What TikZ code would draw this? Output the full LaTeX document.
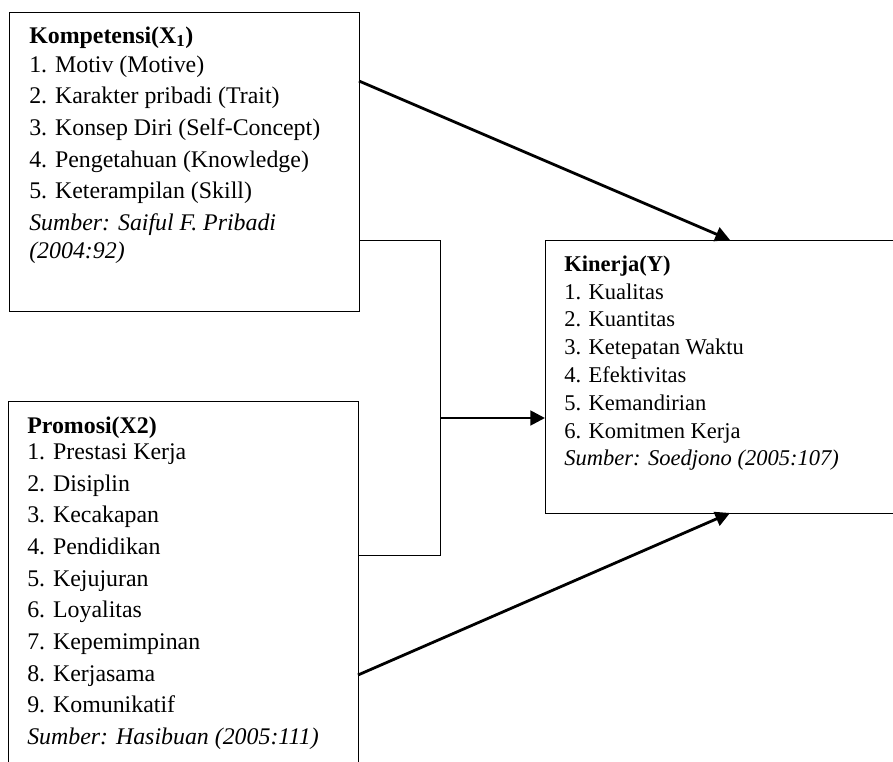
\documentclass[tikz,border=0pt]{standalone}
\usepackage{fontspec}
\setmainfont{Liberation Serif}
\usetikzlibrary{arrows.meta, positioning}

\begin{document}
\begin{tikzpicture}[x=0.75pt, y=-0.75pt, arrow/.style={-{Triangle[length=11pt, width=11pt]}, line width=2.1pt}, link/.style={line width=0.6pt}]
\tikzstyle{box} = [rectangle, draw, line width=0.6pt, anchor=north west, inner sep=0pt, outer sep=0pt]
\tikzstyle{list} = [anchor=north west, align=left, inner sep=0pt, yshift=16pt]
\tikzstyle{big} = [font=\fontsize{17.9}{23.75}\selectfont]
\tikzstyle{small} = [font=\fontsize{16.9}{20.85}\selectfont]
\useasboundingbox (0,0) rectangle (893,761);
\node[box, minimum width=262.5pt, minimum height=224.25pt] (komp) at (9,12) {};
\node[box, minimum width=262.5pt, minimum height=276.75pt] (promosi) at (8,401) {};
\node[box, minimum width=270pt, minimum height=204.75pt] (kinerja) at (545,240) {};
\node[list, big] (komptext) at (29,43) {\rule{0pt}{16pt}\textbf{Kompetensi(X\textsubscript{1})}\\[-2pt]
  1. Motiv (Motive)\\ 2. Karakter pribadi (Trait)\\ 3. Konsep Diri (Self-Concept)\\
  4. Pengetahuan (Knowledge)\\ 5. Keterampilan (Skill)\\
  \textit{Sumber: Saiful F. Pribadi}\\[-2.75pt] \textit{(2004:92)}};
\node[list, big] (promtext) at (27,433) {\rule{0pt}{16pt}\textbf{Promosi(X2)}\\[-4pt]
  1. Prestasi Kerja\\ 2. Disiplin\\ 3. Kecakapan\\ 4. Pendidikan\\ 5. Kejujuran\\
  6. Loyalitas\\ 7. Kepemimpinan\\ 8. Kerjasama\\ 9. Komunikatif\\
  \textit{Sumber: Hasibuan (2005:111)}};
\node[list, small] (kintext) at (564,271.7) {\rule{0pt}{16pt}\textbf{Kinerja(Y)}\\[-0.5pt]
  1. Kualitas\\ 2. Kuantitas\\ 3. Ketepatan Waktu\\ 4. Efektivitas\\ 5. Kemandirian\\
  6. Komitmen Kerja\\ \textit{Sumber: Soedjono (2005:107)}};
% joint lines between the two inputs
\coordinate (jtop) at (440,240);
\coordinate (jbot) at (440,555);
\coordinate (jmid) at (440,418);
\draw[link] (komp.east |- jtop) -- (jtop) -- (jbot) -- (promosi.east |- jbot);
\draw[arrow] (jmid) -- (kinerja.west |- jmid);
\draw[arrow] (komp.east |- 0,81) -- (kinerja.north -| 730,0);
\draw[arrow] (promosi.east |- 0,675) -- (kinerja.south -| 730,0);
\end{tikzpicture}
\end{document}
